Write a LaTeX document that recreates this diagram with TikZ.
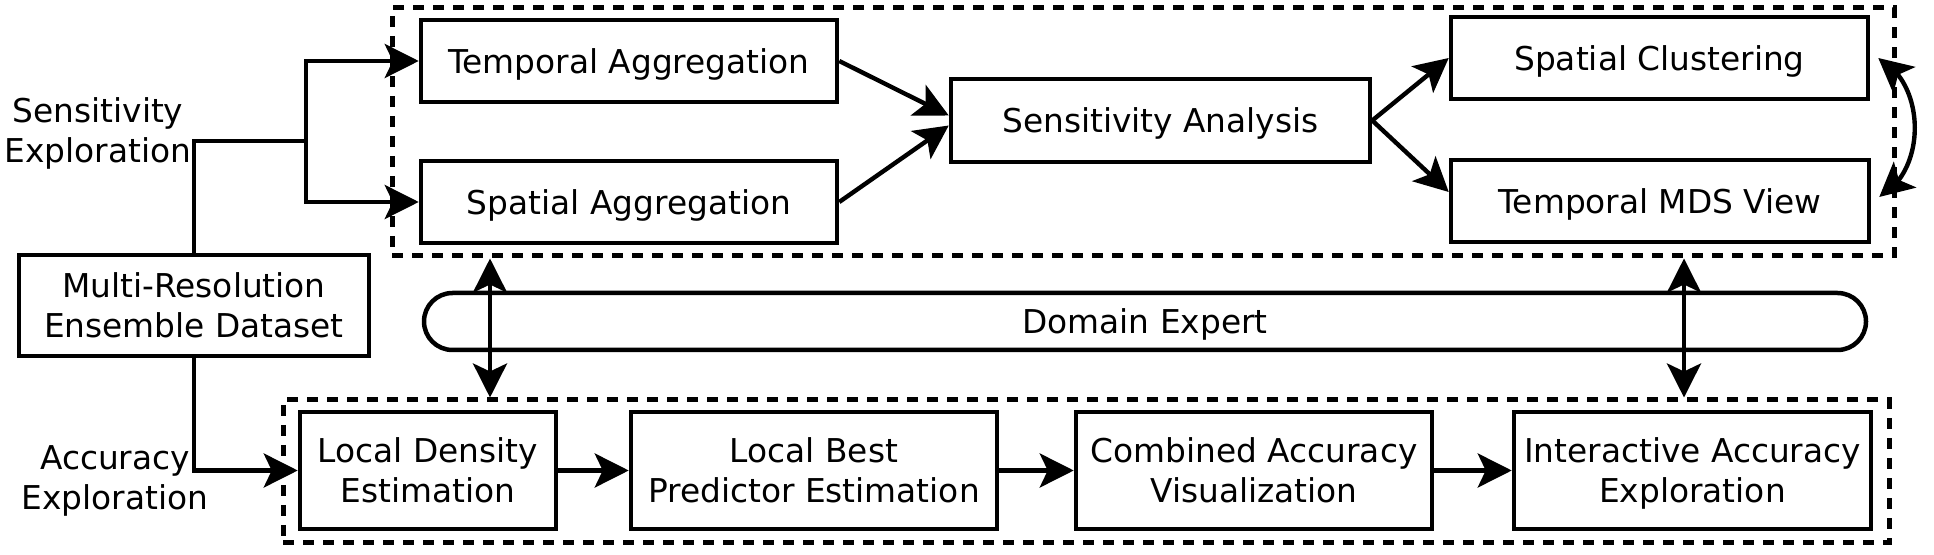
\documentclass[tikz,border=0pt]{standalone}
\usepackage{fontspec}
\setmainfont{DejaVu Sans}
\usetikzlibrary{arrows.meta,bending}
\tikzset{
  blk/.style={draw, line width=2.25pt, rectangle, inner sep=0pt, align=center, text depth=0pt},
  grp/.style={draw, line width=2.5pt, dash pattern=on 5.5pt off 4.5pt, rectangle, inner sep=0pt},
  lbl/.style={align=center, inner sep=0pt},
  conn/.style={line width=2.2pt, -{Stealth[length=17pt,width=17pt,inset=4pt]}},
  conn2/.style={line width=2.2pt, {Stealth[length=17pt,width=17pt,inset=4pt]}-{Stealth[length=17pt,width=17pt,inset=4pt]}},
  plain/.style={line width=2.2pt}
}
\begin{document}
\begin{tikzpicture}[x=0.5pt,y=-0.5pt,font=\fontsize{16.4}{20}\selectfont]
\useasboundingbox (0,0) rectangle (1934,555);
% groups
\node[grp, minimum width=751pt, minimum height=124pt] (topgrp) at (1143,132) {};
\node[grp, minimum width=803pt, minimum height=71.5pt] (botgrp) at (1086,471.5) {};
% top boxes
\node[blk, minimum width=208pt, minimum height=41pt] (TA) at (629,61) {Temporal Aggregation};
\node[blk, minimum width=208pt, minimum height=41pt] (SpA) at (629,202) {Spatial Aggregation};
\node[blk, minimum width=209.5pt, minimum height=41.5pt] (SAn) at (1160.5,120.5) {Sensitivity Analysis};
\node[blk, minimum width=208.5pt, minimum height=41pt] (SC) at (1659.5,58) {Spatial Clustering};
\node[blk, minimum width=209pt, minimum height=41pt] (TMDS) at (1660,201) {Temporal MDS View};
% dataset
\node[blk, minimum width=175pt, minimum height=50.5pt] (MR) at (194,305.5) {Multi-Resolution\\Ensemble Dataset};
% domain expert
\node[blk, rounded corners=14.25pt, minimum width=721pt, minimum height=28.5pt] (DE) at (1145,321.5) {Domain Expert};
% bottom boxes
\node[blk, minimum width=128pt, minimum height=58.5pt] (LD) at (428,470.5) {Local Density\\Estimation};
\node[blk, minimum width=183pt, minimum height=58.5pt] (LB) at (814,470.5) {Local Best\\Predictor Estimation};
\node[blk, minimum width=178pt, minimum height=58.5pt] (CAV) at (1254,470.5) {Combined Accuracy\\Visualization};
\node[blk, minimum width=178.5pt, minimum height=58.5pt] (IAE) at (1692.5,470.5) {Interactive Accuracy\\Exploration};
% labels
\node[lbl] (sens) at (98,133) {Sensitivity\\Exploration};
\node[lbl] (acc) at (115,481) {Accuracy\\Exploration};
% connectors
\coordinate (sbr) at (306,141);
\draw[plain] (MR.north) |- (sbr);
\draw[conn] (sbr) |- (TA.west);
\draw[conn] (sbr) |- (SpA.west);
\draw[conn] (MR.south) |- (LD.west);
\draw[conn] (TA.east) -- ([yshift=2.5pt]SAn.west);
\draw[conn] (SpA.east) -- ([yshift=-2.5pt]SAn.west);
\draw[conn] (SAn.east) -- (SC.west);
\draw[conn] (SAn.east) -- ([yshift=4.5pt]TMDS.west);
\draw[conn2] ([xshift=4pt]SC.east) to[bend left=62] ([xshift=4pt,yshift=2pt]TMDS.east);
\coordinate (vl) at (490,0);
\coordinate (vr) at (1684,0);
\draw[conn2] (vl |- topgrp.south) -- (vl |- botgrp.north);
\draw[conn2] (vr |- topgrp.south) -- (vr |- botgrp.north);
\draw[conn] (LD.east) -- (LB.west);
\draw[conn] (LB.east) -- (CAV.west);
\draw[conn] (CAV.east) -- (IAE.west);
\end{tikzpicture}
\end{document}
